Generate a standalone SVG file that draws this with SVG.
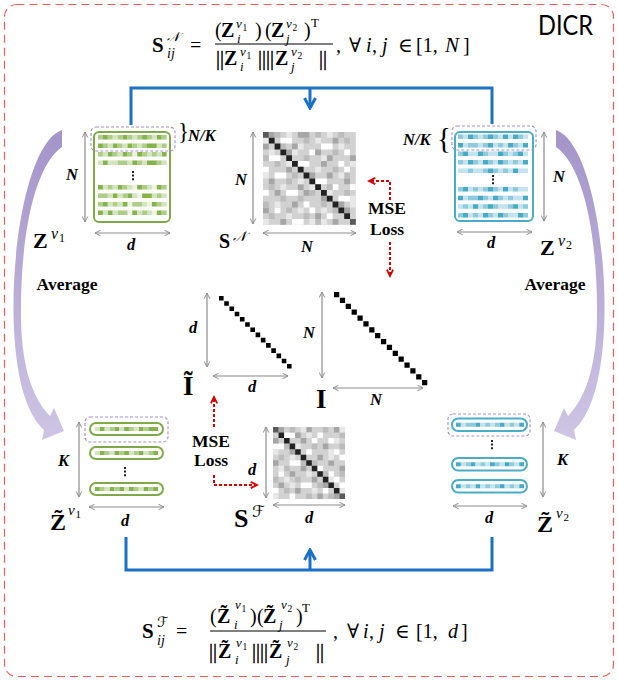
<svg xmlns="http://www.w3.org/2000/svg" width="618" height="682" viewBox="0 0 618 682">
<defs>
<style>
text{font-family:"Liberation Serif","DejaVu Serif",serif;fill:#000}
.bi{font-weight:bold;font-style:italic;font-size:16.5px}
.bt{font-weight:bold;font-size:17.5px}
.bz{font-weight:bold}
.it{font-style:italic}
.nb{stroke:#000;stroke-width:.4}
.tl{font-weight:normal}
.sc{font-family:"DejaVu Serif","DejaVu Sans","Noto Sans",serif;font-style:italic}
.dim{fill:none;stroke:#8c8c8c;stroke-width:1.2;marker-start:url(#ga);marker-end:url(#ga)}
.red{fill:none;stroke:#d00000;stroke-width:2;stroke-dasharray:3 2;marker-end:url(#ra)}
.blue{fill:none;stroke:#1b72c4;stroke-width:3}
.pd{fill:none;stroke:#a48fd0;stroke-width:1.1;stroke-dasharray:3 2}
.gbox{fill:#fff;stroke:#7ea84a;stroke-width:2}
.bbox{fill:#fff;stroke:#4bacc6;stroke-width:2}
.g0{fill:#edf4e4}.g1{fill:#86b24e}.g2{fill:#aecd86}.g3{fill:#d3e5bd}
.b0{fill:#e3f2f7}.b1{fill:#48aac5}.b2{fill:#8ecbdd}.b3{fill:#c3e4ee}
.k0{fill:#d2d2d2}.kw{fill:#fff}.k1{fill:#a6a6a6}.k2{fill:#bcbcbc}.k3{fill:#e8e8e8}.kd{fill:#222}.km{fill:#5a5a5a}
.dots{stroke:#222;stroke-width:2;stroke-dasharray:2 1.6}
.fl{fill:#000}
</style>
<marker id="ga" viewBox="0 0 10 10" refX="9" refY="5" markerWidth="7" markerHeight="7" markerUnits="userSpaceOnUse" orient="auto-start-reverse"><path d="M1,1 L9,5 L1,9" fill="none" stroke="#8c8c8c" stroke-width="1.4"/></marker>
<marker id="ra" viewBox="0 0 10 10" refX="8" refY="5" markerWidth="9" markerHeight="9" markerUnits="userSpaceOnUse" orient="auto"><path d="M1,1.5 L8,5 L1,8.5" fill="none" stroke="#d00000" stroke-width="2"/></marker>
<marker id="ba" viewBox="0 0 14 14" refX="12" refY="7" markerWidth="14" markerHeight="14" markerUnits="userSpaceOnUse" orient="auto"><path d="M2,1.5 L12,7 L2,12.5" fill="none" stroke="#1b72c4" stroke-width="3"/></marker>
<linearGradient id="pg" x1="0" y1="130" x2="0" y2="440" gradientUnits="userSpaceOnUse"><stop offset="0" stop-color="#a394c9"/><stop offset="1" stop-color="#cec5e4"/></linearGradient>
<path id="avgArrow" d="M62,130 C28,142 10,250 14,330 C17,385 28,415 44,430 L42,440 L64,431 L54,408 L50,416 C34,400 22,370 21,320 C20,230 36,165 62,147 Z"/>
</defs>

<rect x="4.5" y="4.5" width="609" height="672" rx="12" fill="none" stroke="#f05a5a" stroke-width="1.2" stroke-dasharray="8 5"/>
<text x="538" y="35" font-size="26" textLength="55" lengthAdjust="spacingAndGlyphs" style="font-family:Lato,'Open Sans',sans-serif">DICR</text>

<g id="connectors">
<path class="blue" d="M131,125 V88 H492 V124"/>
<path class="blue" d="M310,88 V108" marker-end="url(#ba)"/>
<path class="blue" d="M126,537 V570 H492 V537"/>
<path class="blue" d="M310,570 V550" marker-end="url(#ba)"/>
<path class="red" d="M390,200 V181 H369"/>
<path class="red" d="M390,242 V276"/>
<path class="red" d="M214,427 V397"/>
<path class="red" d="M214,475 V485 H257"/>
<use href="#avgArrow" fill="url(#pg)"/>
<use href="#avgArrow" fill="url(#pg)" transform="translate(618,0) scale(-1,1)"/>
</g>

<g id="formula-top">
<text font-size="20"><tspan class="bz" x="152" y="52" font-size="21">S</tspan><tspan class="sc" x="167" y="41" font-size="13">𝒩</tspan><tspan class="it" x="167" y="58" font-size="14">ij</tspan><tspan x="190" y="52">=</tspan><tspan x="215" y="37">(</tspan><tspan class="bz" x="221" y="37">Z</tspan><tspan class="it" x="236" y="28" font-size="13">v</tspan><tspan x="242.5" y="31" font-size="9.5">1</tspan><tspan class="it" x="237" y="43" font-size="13">i</tspan><tspan x="255" y="37">)</tspan><tspan x="265" y="37">(</tspan><tspan class="bz" x="271" y="37">Z</tspan><tspan class="it" x="286" y="28" font-size="13">v</tspan><tspan x="292.5" y="31" font-size="9.5">2</tspan><tspan class="it" x="286" y="43" font-size="13">j</tspan><tspan x="304" y="37">)</tspan><tspan x="311" y="27" font-size="13">T</tspan><tspan class="nb" x="216" y="65">||</tspan><tspan class="bz" x="224" y="65">Z</tspan><tspan class="it" x="240" y="56" font-size="13">v</tspan><tspan x="246.5" y="59" font-size="9.5">1</tspan><tspan class="it" x="240" y="71" font-size="13">i</tspan><tspan class="nb" x="258" y="65">||||</tspan><tspan class="bz" x="275" y="65">Z</tspan><tspan class="it" x="291" y="56" font-size="13">v</tspan><tspan x="297.5" y="59" font-size="9.5">2</tspan><tspan class="it" x="291" y="71" font-size="13">j</tspan><tspan class="nb" x="319" y="65">||</tspan><tspan x="336" y="52">,</tspan><tspan x="349" y="52">∀</tspan><tspan class="it" x="366" y="52">i</tspan><tspan x="372" y="52">,</tspan><tspan class="it" x="382" y="52">j</tspan><tspan x="398" y="52">∈</tspan><tspan x="416" y="52">[1,</tspan><tspan class="it" x="445" y="52" font-size="21">N</tspan><tspan x="463" y="52">]</tspan></text>
<line x1="215" y1="44" x2="333" y2="44" stroke="#000" stroke-width="1"/>
</g>

<g id="formula-bottom">
<text font-size="20"><tspan class="bz" x="142" y="638" font-size="21">S</tspan><tspan class="sc" x="157" y="627" font-size="14">ℱ</tspan><tspan class="it" x="157" y="645" font-size="14">ij</tspan><tspan x="176" y="638">=</tspan><tspan x="210" y="623">(</tspan><tspan class="bz" x="217" y="623">Z̃</tspan><tspan class="it" x="235" y="609" font-size="13">v</tspan><tspan x="241.5" y="612" font-size="9.5">1</tspan><tspan class="it" x="234" y="629" font-size="13">i</tspan><tspan x="250" y="623">)</tspan><tspan x="257" y="623">(</tspan><tspan class="bz" x="263" y="623">Z̃</tspan><tspan class="it" x="281" y="609" font-size="13">v</tspan><tspan x="287.5" y="612" font-size="9.5">2</tspan><tspan class="it" x="279" y="629" font-size="13">j</tspan><tspan x="296" y="623">)</tspan><tspan x="302" y="612" font-size="13">T</tspan><tspan class="nb" x="209" y="658">||</tspan><tspan class="bz" x="218" y="658">Z̃</tspan><tspan class="it" x="236" y="647" font-size="13">v</tspan><tspan x="242.5" y="650" font-size="9.5">1</tspan><tspan class="it" x="235" y="664" font-size="13">i</tspan><tspan class="nb" x="252" y="658">||||</tspan><tspan class="bz" x="269" y="658">Z̃</tspan><tspan class="it" x="287" y="647" font-size="13">v</tspan><tspan x="293.5" y="650" font-size="9.5">2</tspan><tspan class="it" x="286" y="664" font-size="13">j</tspan><tspan class="nb" x="316" y="658">||</tspan><tspan x="333" y="638">,</tspan><tspan x="347" y="638">∀</tspan><tspan class="it" x="363" y="638">i</tspan><tspan x="369" y="638">,</tspan><tspan class="it" x="379" y="638">j</tspan><tspan x="395" y="638">∈</tspan><tspan x="416" y="638">[1,</tspan><tspan class="it" x="448" y="638">d</tspan><tspan x="461" y="638">]</tspan></text>
<line x1="210" y1="631" x2="326" y2="631" stroke="#000" stroke-width="1"/>
</g>

<g id="Zv1">
<rect class="gbox" x="94" y="132" width="76" height="90" rx="5"/>
<g transform="translate(98,135) scale(4.9,4.5)"><rect class="g0" width="14" height="1"/><path class="g1" d="M1 0h1v1h-1zM5 0h1v1h-1zM9 0h1v1h-1zM12 0h1v1h-1z"/><path class="g2" d="M0 0h1v1h-1zM2 0h1v1h-1zM4 0h1v1h-1zM6 0h1v1h-1zM8 0h1v1h-1zM10 0h1v1h-1zM13 0h1v1h-1z"/><path class="g3" d="M3 0h1v1h-1zM7 0h1v1h-1zM11 0h1v1h-1z"/></g>
<g transform="translate(98,143.5) scale(4.9,4.5)"><rect class="g0" width="14" height="1"/><path class="g1" d="M0 0h1v1h-1zM3 0h1v1h-1zM6 0h1v1h-1zM10 0h2v1h-2z"/><path class="g2" d="M1 0h1v1h-1zM4 0h1v1h-1zM7 0h1v1h-1zM9 0h1v1h-1zM13 0h1v1h-1z"/><path class="g3" d="M2 0h1v1h-1zM5 0h1v1h-1zM8 0h1v1h-1zM12 0h1v1h-1z"/></g>
<g transform="translate(98,152) scale(4.9,4.5)"><rect class="g0" width="14" height="1"/><path class="g1" d="M2 0h1v1h-1zM5 0h1v1h-1zM8 0h1v1h-1zM13 0h1v1h-1z"/><path class="g2" d="M0 0h1v1h-1zM3 0h1v1h-1zM6 0h1v1h-1zM9 0h1v1h-1zM11 0h1v1h-1z"/><path class="g3" d="M1 0h1v1h-1zM4 0h1v1h-1zM10 0h1v1h-1zM12 0h1v1h-1z"/></g>
<g transform="translate(98,160.5) scale(4.9,4.5)"><rect class="g0" width="14" height="1"/><path class="g1" d="M1 0h1v1h-1zM7 0h1v1h-1zM10 0h2v1h-2z"/><path class="g2" d="M4 0h2v1h-2zM8 0h1v1h-1zM12 0h1v1h-1z"/><path class="g3" d="M0 0h1v1h-1zM2 0h2v1h-2zM6 0h1v1h-1zM9 0h1v1h-1zM13 0h1v1h-1z"/></g>
<line class="dots" x1="133" y1="171" x2="133" y2="181"/>
<g transform="translate(98,185) scale(4.9,4.5)"><rect class="g0" width="14" height="1"/><path class="g1" d="M0 0h1v1h-1zM4 0h1v1h-1zM8 0h1v1h-1zM12 0h1v1h-1z"/><path class="g2" d="M2 0h1v1h-1zM5 0h1v1h-1zM9 0h1v1h-1zM13 0h1v1h-1z"/><path class="g3" d="M1 0h1v1h-1zM3 0h1v1h-1zM6 0h1v1h-1zM10 0h1v1h-1z"/></g>
<g transform="translate(98,193.5) scale(4.9,4.5)"><rect class="g0" width="14" height="1"/><path class="g1" d="M3 0h1v1h-1zM6 0h1v1h-1zM9 0h2v1h-2z"/><path class="g2" d="M0 0h2v1h-2zM5 0h1v1h-1zM12 0h1v1h-1z"/><path class="g3" d="M2 0h1v1h-1zM4 0h1v1h-1zM7 0h1v1h-1zM11 0h1v1h-1zM13 0h1v1h-1z"/></g>
<g transform="translate(98,202) scale(4.9,4.5)"><rect class="g0" width="14" height="1"/><path class="g1" d="M1 0h1v1h-1zM5 0h1v1h-1zM11 0h1v1h-1z"/><path class="g2" d="M0 0h1v1h-1zM3 0h1v1h-1zM7 0h2v1h-2zM12 0h1v1h-1z"/><path class="g3" d="M2 0h1v1h-1zM4 0h1v1h-1zM9 0h1v1h-1zM13 0h1v1h-1z"/></g>
<g transform="translate(98,210.5) scale(4.9,4.5)"><rect class="g0" width="14" height="1"/><path class="g1" d="M0 0h1v1h-1zM2 0h1v1h-1zM7 0h1v1h-1zM12 0h1v1h-1z"/><path class="g2" d="M4 0h2v1h-2zM9 0h1v1h-1zM13 0h1v1h-1z"/><path class="g3" d="M1 0h1v1h-1zM3 0h1v1h-1zM8 0h1v1h-1zM10 0h1v1h-1z"/></g>
<rect class="pd" x="91" y="127" width="84" height="24" rx="5"/>
<text x="178" y="139" font-size="23">}</text>
<text class="bi" x="188" y="141">N/K</text>
<line class="dim" x1="85" y1="132" x2="85" y2="222"/>
<text class="bi" x="66" y="180">N</text>
<line class="dim" x1="95" y1="233" x2="170" y2="233"/>
<text class="bi" x="127" y="250">d</text>
<text class="bz" x="33" y="248" font-size="22">Z<tspan class="it tl" x="51" y="239" font-size="16">v</tspan><tspan class="tl" x="59" y="242" font-size="12">1</tspan></text>
</g>

<g id="Zv2">
<rect class="bbox" x="455" y="132" width="78" height="89" rx="5"/>
<g transform="translate(458,134.5) scale(5,4.5)"><rect class="b0" width="14" height="1"/><path class="b1" d="M2 0h1v1h-1zM6 0h1v1h-1zM9 0h1v1h-1zM11 0h1v1h-1z"/><path class="b2" d="M0 0h1v1h-1zM3 0h1v1h-1zM5 0h1v1h-1zM7 0h1v1h-1zM12 0h1v1h-1z"/><path class="b3" d="M1 0h1v1h-1zM4 0h1v1h-1zM8 0h1v1h-1zM10 0h1v1h-1zM13 0h1v1h-1z"/></g>
<g transform="translate(458,143) scale(5,4.5)"><rect class="b0" width="14" height="1"/><path class="b1" d="M0 0h1v1h-1zM6 0h1v1h-1zM10 0h1v1h-1zM13 0h1v1h-1z"/><path class="b2" d="M2 0h2v1h-2zM5 0h1v1h-1zM8 0h1v1h-1zM11 0h1v1h-1z"/><path class="b3" d="M1 0h1v1h-1zM4 0h1v1h-1zM7 0h1v1h-1zM9 0h1v1h-1zM12 0h1v1h-1z"/></g>
<g transform="translate(458,151.5) scale(5,4.5)"><rect class="b0" width="14" height="1"/><path class="b1" d="M1 0h1v1h-1zM4 0h1v1h-1zM8 0h1v1h-1zM12 0h1v1h-1z"/><path class="b2" d="M0 0h1v1h-1zM5 0h1v1h-1zM9 0h1v1h-1zM11 0h1v1h-1z"/><path class="b3" d="M2 0h2v1h-2zM6 0h2v1h-2zM10 0h1v1h-1zM13 0h1v1h-1z"/></g>
<g transform="translate(458,160) scale(5,4.5)"><rect class="b0" width="14" height="1"/><path class="b1" d="M2 0h1v1h-1zM5 0h1v1h-1zM8 0h1v1h-1zM13 0h1v1h-1z"/><path class="b2" d="M0 0h1v1h-1zM3 0h1v1h-1zM6 0h1v1h-1zM9 0h1v1h-1zM11 0h1v1h-1z"/><path class="b3" d="M1 0h1v1h-1zM4 0h1v1h-1zM7 0h1v1h-1zM10 0h1v1h-1zM12 0h1v1h-1z"/></g>
<g transform="translate(458,168.5) scale(5,4.5)"><rect class="b0" width="14" height="1"/><path class="b1" d="M6 0h1v1h-1zM11 0h1v1h-1z"/><path class="b2" d="M2 0h1v1h-1zM5 0h1v1h-1zM7 0h1v1h-1zM9 0h1v1h-1z"/><path class="b3" d="M0 0h2v1h-2zM3 0h2v1h-2zM8 0h1v1h-1zM10 0h1v1h-1zM12 0h2v1h-2z"/></g>
<line class="dots" x1="493" y1="175" x2="493" y2="185"/>
<g transform="translate(458,187) scale(5,4.5)"><rect class="b0" width="14" height="1"/><path class="b1" d="M1 0h1v1h-1zM6 0h1v1h-1zM9 0h1v1h-1z"/><path class="b2" d="M0 0h1v1h-1zM3 0h1v1h-1zM5 0h1v1h-1zM7 0h1v1h-1zM11 0h1v1h-1z"/><path class="b3" d="M2 0h1v1h-1zM4 0h1v1h-1zM8 0h1v1h-1zM10 0h1v1h-1zM12 0h2v1h-2z"/></g>
<g transform="translate(458,195.7) scale(5,4.5)"><rect class="b0" width="14" height="1"/><path class="b1" d="M0 0h1v1h-1zM4 0h1v1h-1zM7 0h1v1h-1zM13 0h1v1h-1z"/><path class="b2" d="M2 0h2v1h-2zM5 0h1v1h-1zM8 0h1v1h-1zM10 0h1v1h-1z"/><path class="b3" d="M1 0h1v1h-1zM6 0h1v1h-1zM9 0h1v1h-1zM11 0h2v1h-2z"/></g>
<g transform="translate(458,204.3) scale(5,4.5)"><rect class="b0" width="14" height="1"/><path class="b1" d="M3 0h1v1h-1zM6 0h1v1h-1zM11 0h1v1h-1z"/><path class="b2" d="M1 0h1v1h-1zM5 0h1v1h-1zM7 0h1v1h-1zM10 0h1v1h-1zM13 0h1v1h-1z"/><path class="b3" d="M0 0h1v1h-1zM2 0h1v1h-1zM4 0h1v1h-1zM8 0h2v1h-2zM12 0h1v1h-1z"/></g>
<g transform="translate(458,213) scale(5,4.5)"><rect class="b0" width="14" height="1"/><path class="b1" d="M1 0h1v1h-1zM5 0h1v1h-1zM8 0h1v1h-1zM12 0h1v1h-1z"/><path class="b2" d="M0 0h1v1h-1zM3 0h1v1h-1zM6 0h1v1h-1zM9 0h1v1h-1zM13 0h1v1h-1z"/><path class="b3" d="M2 0h1v1h-1zM4 0h1v1h-1zM7 0h1v1h-1zM10 0h2v1h-2z"/></g>
<rect class="pd" x="452" y="126" width="84" height="24" rx="5"/>
<text x="437" y="148" font-size="29">{</text>
<text class="bi" x="403" y="145">N/K</text>
<line class="dim" x1="544" y1="132" x2="544" y2="221"/>
<text class="bi" x="553" y="182">N</text>
<line class="dim" x1="457" y1="232" x2="532" y2="232"/>
<text class="bi" x="487" y="248">d</text>
<text class="bz" x="540" y="255" font-size="22">Z<tspan class="it tl" x="558" y="246" font-size="16">v</tspan><tspan class="tl" x="566" y="249" font-size="12">2</tspan></text>
</g>

<g id="SN">
<g transform="translate(263,132) scale(5.8)">
<rect class="k0" width="16" height="16"/>
<path class="kw" d="M3 1h2v1h-2zM10 2h2v1h-2zM1 4h2v1h-2zM6 5h2v1h-2zM13 5h1v1h-1zM14 6h1v1h-1zM2 7h2v1h-2zM9 8h2v1h-2zM12 9h1v1h-1zM0 10h1v1h-1zM4 10h2v1h-2zM13 11h2v1h-2zM7 12h1v1h-1zM8 13h1v1h-1zM2 13h1v1h-1zM11 14h1v1h-1zM5 15h2v1h-2zM14 3h1v1h-1zM8 3h1v1h-1zM15 9h1v1h-1zM0 6h1v1h-1z"/>
<path class="k1" d="M1 0h1v1h-1zM6 0h2v1h-2zM12 1h1v1h-1zM0 2h1v1h-1zM5 2h1v1h-1zM9 3h1v1h-1zM4 3h1v1h-1zM15 4h1v1h-1zM10 5h1v1h-1zM4 6h1v1h-1zM11 7h1v1h-1zM8 7h1v1h-1zM1 8h1v1h-1zM14 8h1v1h-1zM6 9h1v1h-1zM2 10h1v1h-1zM10 11h1v1h-1zM5 12h1v1h-1zM13 12h1v1h-1zM0 13h1v1h-1zM9 14h1v1h-1zM14 13h1v1h-1zM3 15h1v1h-1zM12 15h1v1h-1zM11 4h1v1h-1zM7 10h1v1h-1z"/>
<path class="k2" d="M2 0h1v1h-1zM9 0h1v1h-1zM13 0h1v1h-1zM7 1h1v1h-1zM14 1h1v1h-1zM3 2h1v1h-1zM12 3h1v1h-1zM0 4h1v1h-1zM7 4h1v1h-1zM2 5h1v1h-1zM12 6h1v1h-1zM5 7h1v1h-1zM14 7h1v1h-1zM4 8h1v1h-1zM11 9h1v1h-1zM1 9h1v1h-1zM8 10h1v1h-1zM14 10h1v1h-1zM3 11h1v1h-1zM6 11h1v1h-1zM0 12h1v1h-1zM10 12h1v1h-1zM4 13h1v1h-1zM12 13h1v1h-1zM1 14h1v1h-1zM7 14h1v1h-1zM9 15h1v1h-1z"/>
<path class="k3" d="M4 0h1v1h-1zM11 0h1v1h-1zM0 1h1v1h-1zM9 1h1v1h-1zM6 2h1v1h-1zM13 2h1v1h-1zM1 3h1v1h-1zM5 3h1v1h-1zM10 4h1v1h-1zM4 5h1v1h-1zM15 5h1v1h-1zM9 6h1v1h-1zM0 7h1v1h-1zM13 7h1v1h-1zM6 8h1v1h-1zM3 9h1v1h-1zM8 9h1v1h-1zM11 10h1v1h-1zM15 11h1v1h-1zM2 12h1v1h-1zM15 12h1v1h-1zM6 13h1v1h-1zM10 13h1v1h-1zM4 14h1v1h-1zM0 15h1v1h-1zM8 15h1v1h-1zM10 15h1v1h-1z"/>
<path class="km" d="M0 0h1v1h-1zM15 15h1v1h-1z"/>
<path class="kd" d="M1 1h1v1h-1zM2 2h1v1h-1zM3 3h1v1h-1zM4 4h1v1h-1zM5 5h1v1h-1zM6 6h1v1h-1zM7 7h1v1h-1zM8 8h1v1h-1zM9 9h1v1h-1zM10 10h1v1h-1zM11 11h1v1h-1zM12 12h1v1h-1zM13 13h1v1h-1zM14 14h1v1h-1z"/>
</g>
<line class="dim" x1="253" y1="132" x2="253" y2="224"/>
<text class="bi" x="235" y="185">N</text>
<line class="dim" x1="263" y1="233" x2="356" y2="233"/>
<text class="bi" x="301" y="252">N</text>
<text class="bz" x="219" y="248" font-size="20">S<tspan class="sc tl" x="233" y="241" font-size="14">𝒩</tspan></text>
</g>

<g id="loss-top">
<text class="bt" x="387" y="214" text-anchor="middle">MSE</text>
<text class="bt" x="387" y="235" text-anchor="middle">Loss</text>
</g>

<g id="I-tilde">
<g transform="translate(219,296) scale(5.23)" class="fl">
<path d="M0 0h.88v.88h-.88zM1 1h.88v.88h-.88zM2 2h.88v.88h-.88zM3 3h.88v.88h-.88zM4 4h.88v.88h-.88zM5 5h.88v.88h-.88zM6 6h.88v.88h-.88zM7 7h.88v.88h-.88zM8 8h.88v.88h-.88zM9 9h.88v.88h-.88zM10 10h.88v.88h-.88zM11 11h.88v.88h-.88zM12 12h.88v.88h-.88zM13 13h.88v.88h-.88z"/>
</g>
<line class="dim" x1="207" y1="293" x2="207" y2="367"/>
<text class="bi" x="189" y="333">d</text>
<line class="dim" x1="213" y1="376" x2="288" y2="376"/>
<text class="bi" x="248" y="392">d</text>
<text class="bz" x="183" y="395" font-size="27">Ĩ</text>
</g>

<g id="I">
<g transform="translate(334,292) scale(5.87)" class="fl">
<path d="M0 0h.89v.89h-.89zM1 1h.89v.89h-.89zM2 2h.89v.89h-.89zM3 3h.89v.89h-.89zM4 4h.89v.89h-.89zM5 5h.89v.89h-.89zM6 6h.89v.89h-.89zM7 7h.89v.89h-.89zM8 8h.89v.89h-.89zM9 9h.89v.89h-.89zM10 10h.89v.89h-.89zM11 11h.89v.89h-.89zM12 12h.89v.89h-.89zM13 13h.89v.89h-.89zM14 14h.89v.89h-.89zM15 15h.89v.89h-.89z"/>
</g>
<line class="dim" x1="322" y1="292" x2="322" y2="378"/>
<text class="bi" x="303" y="338">N</text>
<line class="dim" x1="333" y1="388" x2="423" y2="388"/>
<text class="bi" x="370" y="405">N</text>
<text class="bz" x="316" y="408" font-size="27">I</text>
</g>

<g id="loss-bottom">
<text class="bt" x="211" y="447" text-anchor="middle">MSE</text>
<text class="bt" x="211" y="466" text-anchor="middle">Loss</text>
</g>

<g id="SF">
<g transform="translate(273,427) scale(5.54)">
<rect class="k0" width="13" height="13"/>
<path class="kw" d="M2 1h2v1h-2zM8 1h1v1h-1zM10 2h1v1h-1zM0 3h2v1h-2zM6 4h1v1h-1zM11 4h1v1h-1zM12 5h1v1h-1zM3 6h2v1h-2zM8 7h1v1h-1zM1 8h1v1h-1zM10 8h1v1h-1zM11 9h1v1h-1zM5 10h2v1h-2zM0 11h1v1h-1zM9 11h1v1h-1zM3 12h1v1h-1zM12 10h1v1h-1zM7 2h1v1h-1z"/>
<path class="k1" d="M1 0h1v1h-1zM6 0h1v1h-1zM11 0h1v1h-1zM4 1h1v1h-1zM0 2h1v1h-1zM5 2h1v1h-1zM9 3h1v1h-1zM3 4h1v1h-1zM8 5h1v1h-1zM0 6h1v1h-1zM10 6h1v1h-1zM5 7h1v1h-1zM12 7h1v1h-1zM3 8h1v1h-1zM7 9h1v1h-1zM1 10h1v1h-1zM9 10h1v1h-1zM4 11h1v1h-1zM8 12h1v1h-1zM11 12h1v1h-1z"/>
<path class="k2" d="M3 0h1v1h-1zM9 0h1v1h-1zM12 1h1v1h-1zM2 3h1v1h-1zM7 3h1v1h-1zM12 3h1v1h-1zM1 5h1v1h-1zM5 6h1v1h-1zM7 6h1v1h-1zM2 7h1v1h-1zM9 8h1v1h-1zM4 9h1v1h-1zM0 9h1v1h-1zM12 8h1v1h-1zM8 10h1v1h-1zM2 11h1v1h-1zM6 12h1v1h-1zM10 12h1v1h-1z"/>
<path class="k3" d="M5 0h1v1h-1zM12 0h1v1h-1zM6 1h1v1h-1zM11 2h1v1h-1zM4 3h1v1h-1zM10 4h1v1h-1zM0 4h1v1h-1zM3 5h1v1h-1zM10 5h1v1h-1zM1 7h1v1h-1zM6 8h1v1h-1zM10 9h1v1h-1zM2 9h1v1h-1zM3 10h1v1h-1zM12 11h1v1h-1zM7 11h1v1h-1zM0 12h1v1h-1z"/>
<path class="km" d="M0 0h1v1h-1zM12 12h1v1h-1z"/>
<path class="kd" d="M1 1h1v1h-1zM2 2h1v1h-1zM3 3h1v1h-1zM4 4h1v1h-1zM5 5h1v1h-1zM6 6h1v1h-1zM7 7h1v1h-1zM8 8h1v1h-1zM9 9h1v1h-1zM10 10h1v1h-1zM11 11h1v1h-1z"/>
</g>
<line class="dim" x1="266" y1="427" x2="266" y2="498"/>
<text class="bi" x="248" y="475">d</text>
<line class="dim" x1="273" y1="505" x2="345" y2="505"/>
<text class="bi" x="305" y="523">d</text>
<text class="bz" x="234" y="527" font-size="26">S<tspan class="sc tl" x="252" y="517" font-size="16">ℱ</tspan></text>
</g>

<g id="Zt-v1">
<rect class="gbox" x="90" y="423" width="73" height="12" rx="6"/>
<rect class="gbox" x="90" y="447" width="73" height="12" rx="6"/>
<rect class="gbox" x="90" y="483" width="73" height="12" rx="6"/>
<g transform="translate(95,427) scale(4.85,4)"><rect class="g0" width="13" height="1"/><path class="g1" d="M1 0h1v1h-1zM4 0h1v1h-1zM6 0h1v1h-1zM9 0h1v1h-1zM11 0h2v1h-2z"/><path class="g2" d="M3 0h1v1h-1zM7 0h1v1h-1zM10 0h1v1h-1z"/><path class="g3" d="M0 0h1v1h-1zM2 0h1v1h-1zM5 0h1v1h-1zM8 0h1v1h-1z"/></g>
<g transform="translate(95,451) scale(4.85,4)"><rect class="g0" width="13" height="1"/><path class="g1" d="M1 0h1v1h-1zM4 0h1v1h-1zM6 0h1v1h-1zM9 0h1v1h-1zM12 0h1v1h-1z"/><path class="g2" d="M2 0h1v1h-1zM5 0h1v1h-1zM8 0h1v1h-1zM11 0h1v1h-1z"/><path class="g3" d="M0 0h1v1h-1zM3 0h1v1h-1zM7 0h1v1h-1zM10 0h1v1h-1z"/></g>
<g transform="translate(95,487) scale(4.85,4)"><rect class="g0" width="13" height="1"/><path class="g1" d="M0 0h1v1h-1zM3 0h1v1h-1zM5 0h1v1h-1zM7 0h1v1h-1zM10 0h1v1h-1zM12 0h1v1h-1z"/><path class="g2" d="M1 0h1v1h-1zM4 0h1v1h-1zM8 0h1v1h-1zM11 0h1v1h-1z"/><path class="g3" d="M2 0h1v1h-1zM6 0h1v1h-1zM9 0h1v1h-1z"/></g>
<line class="dots" x1="125" y1="467" x2="125" y2="477"/>
<rect class="pd" x="85" y="417" width="83" height="25" rx="5"/>
<line class="dim" x1="79" y1="422" x2="79" y2="497"/>
<text class="bi" x="58" y="466">K</text>
<line class="dim" x1="89" y1="507" x2="164" y2="507"/>
<text class="bi" x="121" y="526">d</text>
<text class="bz" x="50" y="530" font-size="24">Z̃<tspan class="it tl" x="68" y="515" font-size="15">v</tspan><tspan class="tl" x="75.5" y="518" font-size="11">1</tspan></text>
</g>

<g id="Zt-v2">
<rect class="bbox" x="452" y="418.5" width="75" height="12.5" rx="6.25"/>
<rect class="bbox" x="452" y="458" width="75" height="12.5" rx="6.25"/>
<rect class="bbox" x="452" y="480" width="75" height="12.5" rx="6.25"/>
<g transform="translate(456,422.75) scale(4.86,4)"><rect class="b0" width="14" height="1"/><path class="b1" d="M0 0h1v1h-1zM4 0h1v1h-1zM9 0h1v1h-1zM13 0h1v1h-1z"/><path class="b2" d="M2 0h2v1h-2zM6 0h1v1h-1zM8 0h1v1h-1zM11 0h1v1h-1z"/><path class="b3" d="M1 0h1v1h-1zM5 0h1v1h-1zM7 0h1v1h-1zM10 0h1v1h-1zM12 0h1v1h-1z"/></g>
<g transform="translate(456,462.25) scale(4.86,4)"><rect class="b0" width="14" height="1"/><path class="b1" d="M0 0h1v1h-1zM3 0h1v1h-1zM7 0h1v1h-1zM10 0h1v1h-1zM13 0h1v1h-1z"/><path class="b2" d="M2 0h1v1h-1zM5 0h1v1h-1zM8 0h1v1h-1zM11 0h1v1h-1z"/><path class="b3" d="M1 0h1v1h-1zM4 0h1v1h-1zM6 0h1v1h-1zM9 0h1v1h-1zM12 0h1v1h-1z"/></g>
<g transform="translate(456,484.25) scale(4.86,4)"><rect class="b0" width="14" height="1"/><path class="b1" d="M0 0h1v1h-1zM4 0h1v1h-1zM9 0h1v1h-1zM13 0h1v1h-1z"/><path class="b2" d="M2 0h1v1h-1zM6 0h1v1h-1zM8 0h1v1h-1zM11 0h1v1h-1z"/><path class="b3" d="M1 0h1v1h-1zM3 0h1v1h-1zM5 0h1v1h-1zM7 0h1v1h-1zM10 0h1v1h-1zM12 0h1v1h-1z"/></g>
<line class="dots" x1="492" y1="440" x2="492" y2="450"/>
<rect class="pd" x="448" y="414" width="82" height="22" rx="5"/>
<line class="dim" x1="543" y1="422" x2="543" y2="497"/>
<text class="bi" x="557" y="465">K</text>
<line class="dim" x1="453" y1="506" x2="527" y2="506"/>
<text class="bi" x="485" y="523">d</text>
<text class="bz" x="537" y="532" font-size="24">Z̃<tspan class="it tl" x="556" y="518" font-size="15">v</tspan><tspan class="tl" x="563.5" y="521" font-size="11">2</tspan></text>
</g>

<g id="avg-labels">
<text class="bt" x="67" y="290" text-anchor="middle">Average</text>
<text class="bt" x="555" y="290" text-anchor="middle">Average</text>
</g>
</svg>
